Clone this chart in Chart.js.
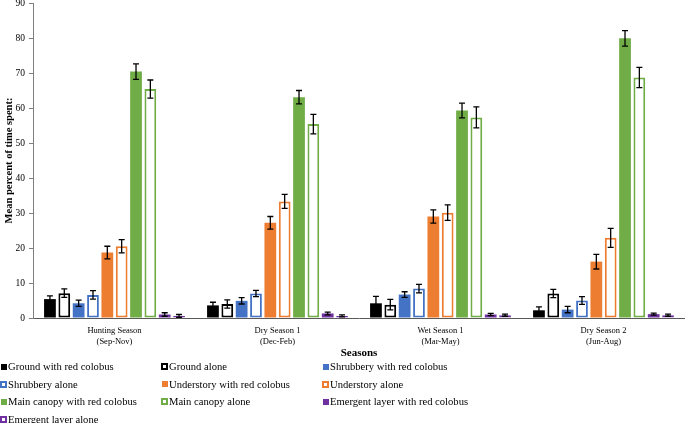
<!DOCTYPE html>
<html><head><meta charset="utf-8">
<script src="https://cdn.jsdelivr.net/npm/chart.js@4/dist/chart.umd.min.js"></script>
<style>
html,body{margin:0;padding:0;background:#fff;}
#wrap{position:relative;width:685px;height:423px;overflow:hidden;font-family:'Liberation Serif',serif;background:#fff;}
#cw{position:absolute;left:0;top:0;width:685px;height:362px;}
#legend{position:absolute;left:0;top:358px;width:685px;display:grid;grid-template-columns:161px 161px 340px;grid-auto-rows:17.5px;font-size:10.6px;color:#000;}
.item{display:flex;align-items:center;white-space:nowrap;}
.sw{display:inline-block;width:7px;height:7px;box-sizing:border-box;margin-right:1px;flex:none;}
.sw.f{width:6px;height:6px;margin-left:0.5px;margin-right:1.5px;}
</style></head>
<body><div id="wrap"><div id="cw"><canvas id="c"></canvas></div><div id="legend"></div></div>
<script>
// ---- data ----
const categories = [['Hunting Season','(Sep-Nov)'],['Dry Season 1','(Dec-Feb)'],['Wet Season 1','(Mar-May)'],['Dry Season 2','(Jun-Aug)']];
const seriesNames = ['Ground with red colobus','Ground alone','Shrubbery with red colobus','Shrubbery alone','Understory with red colobus','Understory alone','Main canopy with red colobus','Main canopy alone','Emergent layer with red colobus','Emergent layer alone'];
const yTicks = [0,10,20,30,40,50,60,70,80,90];

const groundWith      = [5.4, 3.6, 4.2, 2.2];
const groundWithErr   = [0.9, 0.9, 2.0, 1.0];
const groundAlone     = [7.1, 4.0, 3.8, 7.0];
const groundAloneErr  = [1.2, 1.2, 1.5, 1.2];
const shrubWith       = [4.2, 4.9, 6.7, 2.4];
const shrubWithErr    = [0.9, 0.9, 0.8, 0.9];
const shrubAlone      = [6.6, 7.0, 8.4, 5.0];
const shrubAloneErr   = [1.2, 0.9, 1.2, 1.1];
const underWith       = [18.7, 27.2, 29.0, 16.1];
const underWithErr    = [1.8, 1.8, 1.9, 2.1];
const underAlone      = [20.5, 33.3, 30.1, 22.9];
const underAloneErr   = [1.9, 2.0, 2.2, 2.7];
const canopyWith      = [70.4, 63.1, 59.3, 79.9];
const canopyWithErr   = [2.2, 1.9, 2.1, 2.2];
const canopyAlone     = [65.4, 55.4, 57.3, 68.7];
const canopyAloneErr  = [2.6, 2.8, 3.0, 2.9];
const emergentWith    = [1.0, 1.3, 1.0, 1.1];
const emergentWithErr = [0.5, 0.4, 0.3, 0.3];
const emergentAlone   = [0.6, 0.6, 0.8, 0.8];
const emergentAloneErr= [0.4, 0.3, 0.3, 0.3];

const seriesValues = [groundWith, groundAlone, shrubWith, shrubAlone, underWith, underAlone, canopyWith, canopyAlone, emergentWith, emergentAlone];
const seriesErrors = [groundWithErr, groundAloneErr, shrubWithErr, shrubAloneErr, underWithErr, underAloneErr, canopyWithErr, canopyAloneErr, emergentWithErr, emergentAloneErr];
const seriesColors = ['#000000','#000000','#4472C4','#4472C4','#ED7D31','#ED7D31','#70AD47','#70AD47','#7030A0','#7030A0'];
const seriesHollow = [false,true,false,true,false,true,false,true,false,true];

const FONT = "'Liberation Serif', 'Times New Roman', serif";

const datasets = seriesNames.map((name, i) => ({
  label: name,
  data: seriesValues[i],
  errors: seriesErrors[i],
  hollow: seriesHollow[i],
  backgroundColor: seriesHollow[i] ? '#ffffff' : seriesColors[i],
  borderColor: seriesColors[i],
  borderWidth: seriesHollow[i] ? 2 : 0,
  borderSkipped: false,
  categoryPercentage: 0.88,
  barPercentage: 0.82
}));

const errorBars = {
  id: 'errorBars',
  afterDatasetsDraw(chart) {
    const ctx = chart.ctx, y = chart.scales.y;
    ctx.save();
    ctx.strokeStyle = '#000';
    ctx.lineWidth = 1.3;
    chart.data.datasets.forEach((ds, di) => {
      const meta = chart.getDatasetMeta(di);
      meta.data.forEach((el, j) => {
        const v = ds.data[j], e = ds.errors[j];
        const yt = y.getPixelForValue(v + e), yb = y.getPixelForValue(Math.max(0, v - e));
        const x = el.x, h = 3;
        ctx.beginPath();
        ctx.moveTo(x, yt); ctx.lineTo(x, yb);
        ctx.moveTo(x - h, yt); ctx.lineTo(x + h, yt);
        ctx.moveTo(x - h, yb); ctx.lineTo(x + h, yb);
        ctx.stroke();
      });
    });
    ctx.restore();
  }
};

const chart = new Chart(document.getElementById('c'), {
  type: 'bar',
  data: { labels: categories, datasets },
  options: {
    responsive: true,
    maintainAspectRatio: false,
    animation: false,
    layout: { padding: 0 },
    plugins: { legend: { display: false }, tooltip: { enabled: false } },
    scales: {
      x: {
        offset: true,
        ticks: { color: '#000', font: { family: FONT, size: 8.5 }, padding: 8, maxRotation: 0, autoSkip: false },
        grid: { display: false, drawTicks: false },
        border: { display: true, color: '#595959', width: 1 },
        title: { display: true, text: 'Seasons', color: '#000', font: { family: FONT, size: 11, weight: 'bold' }, padding: { top: 0, bottom: 2 } },
        afterFit(s) { s.height = 44; }
      },
      y: {
        min: 0, max: 90,
        afterBuildTicks(s) { s.ticks = yTicks.map(v => ({ value: v })); },
        ticks: { color: '#000', font: { family: FONT, size: 9.5 }, padding: 4 },
        grid: { drawOnChartArea: false, drawTicks: true, tickLength: 4, color: '#7f7f7f' },
        border: { display: true, color: '#7f7f7f', width: 1 },
        title: { display: true, text: 'Mean percent of time spent:', color: '#000', font: { family: FONT, size: 10.5, weight: 'bold' }, padding: { top: 3, bottom: 0 } },
        afterFit(s) { s.width = 33; s.paddingTop = 3; s.paddingBottom = 0; }
      }
    }
  },
  plugins: [errorBars]
});

// HTML legend built from the chart's datasets
const lg = document.getElementById('legend');
chart.data.datasets.forEach(ds => {
  const it = document.createElement('div');
  it.className = 'item';
  const sw = document.createElement('span');
  sw.className = 'sw';
  if (ds.hollow) { sw.style.border = '2px solid ' + ds.borderColor; sw.style.background = '#fff'; }
  else { sw.className = 'sw f'; sw.style.background = ds.backgroundColor; }
  const tx = document.createElement('span');
  tx.textContent = ds.label;
  it.appendChild(sw); it.appendChild(tx);
  lg.appendChild(it);
});
</script>
</body></html>
